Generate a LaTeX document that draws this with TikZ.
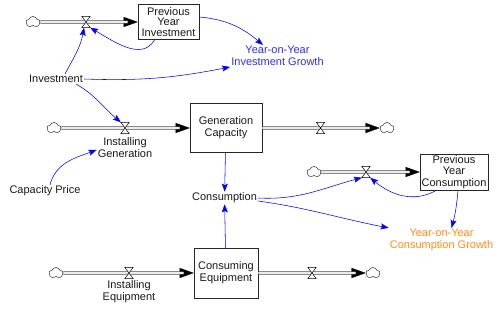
\documentclass[tikz,border=0pt]{standalone}
\usepackage{fontspec}
\setmainfont{Liberation Sans}
\usetikzlibrary{arrows.meta,shapes.symbols}
\definecolor{cblue}{RGB}{0,0,255}
\definecolor{tblue}{RGB}{45,45,250}
\definecolor{corange}{RGB}{255,140,20}
\begin{document}
\begin{tikzpicture}[x=1pt,y=1pt,
  every node/.style={font=\fontsize{11}{12}\selectfont, text=black!90},
  stock/.style={draw=black!85, line width=0.6pt, fill=white, align=center, inner sep=1pt},
  lbl/.style={align=center, inner sep=1pt},
  cloudn/.style={cloud, draw=black!80, fill=white, cloud puffs=5, cloud puff arc=140, cloud ignores aspect, inner sep=0pt, minimum width=14pt, minimum height=11pt, line width=0.5pt},
  valve/.style={minimum width=8pt, minimum height=11pt, inner sep=0pt, append after command={\pgfextra{\draw[line width=0.5pt, fill=white] (\tikzlastnode.north west) -- (\tikzlastnode.north east) -- (\tikzlastnode.south west) -- (\tikzlastnode.south east) -- cycle;}}},
  pipe/.style={draw=black!70, line width=0.7pt, double=black!8, double distance=1.8pt, shorten >=10pt},
  pipetip/.style={draw=black, line width=0.1pt, -{Triangle[length=14pt,width=10pt]}},
  conn/.style={draw=cblue, line width=0.55pt, -{Stealth[length=8pt,width=6pt,inset=1.5pt]}}
]
\useasboundingbox (0,0) rectangle (500,-310);

% clouds and stocks
\node[cloudn] (cl1) at (33,-22) {};
\node[stock, minimum width=61pt, minimum height=35pt, font=\fontsize{11}{10.8}\selectfont] (pyi) at (168.5,-22) {Previous\\Year\\Investment};
\node[cloudn] (cl2) at (54,-128) {};
\node[stock, minimum width=72pt, minimum height=49pt] (gc) at (226,-128) {Generation\\Capacity};
\node[cloudn] (cl3) at (387,-128) {};
\node[cloudn] (cl4) at (314,-172) {};
\node[stock, minimum width=68pt, minimum height=36pt, font=\fontsize{11}{11.5}\selectfont] (pyc) at (454,-172) {Previous\\Year\\Consumption};
\node[cloudn] (cl5) at (56,-273) {};
\node[stock, minimum width=64pt, minimum height=50pt] (ce) at (226,-273) {Consuming\\Equipment};
\node[cloudn] (cl6) at (373,-273) {};

% pipes
\path[pipetip] (cl1) -- (pyi);
\draw[pipe] (cl1) -- (pyi);
\path[pipetip] (cl2) -- (gc);
\draw[pipe] (cl2) -- (gc);
\path[pipetip] (gc) -- (cl3);
\draw[pipe] (gc) -- (cl3);
\path[pipetip] (cl4) -- (pyc);
\draw[pipe] (cl4) -- (pyc);
\path[pipetip] (cl5) -- (ce);
\draw[pipe] (cl5) -- (ce);
\path[pipetip] (ce) -- (cl6);
\draw[pipe] (ce) -- (cl6);

% valves
\node[valve] (v1) at (86,-22) {};
\node[valve] (v2) at (125,-128) {};
\node[valve] (v3) at (320.5,-128) {};
\node[valve] (v4) at (366,-172) {};
\node[valve] (v5) at (129,-273) {};
\node[valve] (v6) at (312,-273) {};

% labels / auxiliaries
\node[lbl, text=tblue] (yig) at (277.5,-56) {Year-on-Year\\Investment Growth};
\node[lbl] (inv) at (56,-79) {Investment};
\node[lbl] (ig) at (125,-148) {Installing\\Generation};
\node[lbl] (cp) at (45,-191) {Capacity Price};
\node[lbl] (cons) at (224.5,-198) {Consumption};
\node[lbl, text=corange] (ycg) at (441.5,-240) {Year-on-Year\\Consumption Growth};
\node[lbl] (ie) at (129,-292) {Installing\\Equipment};

% connectors
\draw[conn] ([xshift=9pt]inv.north) to[out=62, in=-100] ([xshift=-2pt]v1.south);
\draw[conn] (pyi.232) to[out=-120, in=-30] (v1.south east);
\draw[conn] ([yshift=5pt]pyi.east) to[out=-5, in=140] ([xshift=-14.5pt]yig.north);
\draw[conn] (inv.east) to[out=-2, in=191] ([yshift=-11pt]yig.west);
\draw[conn] ([xshift=-8pt]inv.south east) to[out=-30, in=140] (v2.north west);
\draw[conn] ([xshift=5pt]cp.north) to[out=75, in=200] ([yshift=-2pt]ig.west);
\draw[conn] (gc) -- (cons);
\draw[conn] (ce) -- (cons);
\draw[conn] (cons.east) to[out=-3, in=195] (v4.south west);
\draw[conn] (pyc.226) to[out=-150, in=-40] (v4.south east);
\draw[conn] ([xshift=4pt]pyc.south) to[out=-95, in=75] ([xshift=10pt]ycg.north);
\draw[conn] ([yshift=-3pt]cons.east) to[out=-8, in=169] (ycg.north west);
\end{tikzpicture}
\end{document}
